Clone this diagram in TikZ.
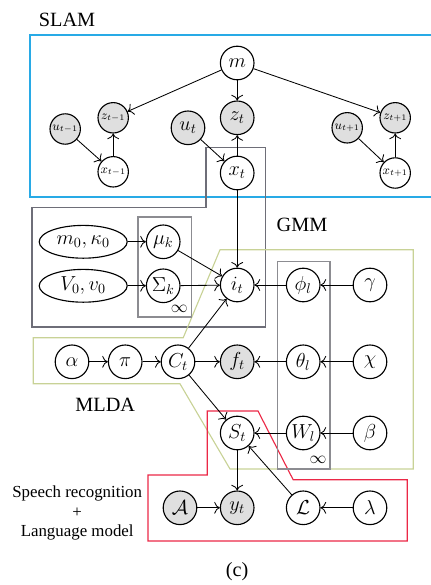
\documentclass[tikz,border=0pt]{standalone}
\usepackage[no-math]{fontspec}
\setmainfont{Liberation Serif}
\usepackage{amsmath}
\usetikzlibrary{arrows.meta,shapes.geometric,positioning,calc}
\definecolor{slamBlue}{RGB}{40,170,230}
\definecolor{gmmGray}{RGB}{110,110,120}
\definecolor{plateGray}{RGB}{140,140,145}
\definecolor{mldaGreen}{RGB}{200,210,150}
\definecolor{srRed}{RGB}{235,40,70}

\begin{document}
\begin{tikzpicture}[
  var/.style={circle,draw,thick,minimum size=0.84cm,inner sep=0pt,font=\Large},
  obs/.style={var,fill=gray!25},
  svar/.style={circle,draw,thick,minimum size=0.76cm,inner sep=0pt,font=\small},
  sobs/.style={svar,fill=gray!25},
  hyp/.style={ellipse,draw,thick,minimum width=2.2cm,minimum height=0.82cm,inner sep=0pt,font=\Large},
  plate/.style={draw=plateGray,thick},
  lbl/.style={font=\Large},
  ar/.style={-{To[length=4pt]},semithick}
]
  \useasboundingbox (0,0) rectangle (10.775,14.625);

  % model boxes
  \draw[slamBlue,very thick] (10.775,13.75) -- (0.75,13.75) -- (0.75,9.70) -- (10.775,9.70);
  \draw[draw=gmmGray,thick] (5.15,10.93) -- (6.63,10.93) -- (6.63,6.45) -- (0.80,6.45)
      -- (0.80,9.43) -- (5.15,9.43) -- cycle;
  \draw[mldaGreen,thick] (5.50,8.38) -- (10.33,8.38) -- (10.33,2.90) -- (5.75,2.90)
      -- (4.50,5.03) -- (0.83,5.03) -- (0.83,6.18) -- (4.58,6.18) -- cycle;
  \draw[srRed,thick] (5.18,4.35) -- (6.45,4.35) -- (7.33,2.63) -- (10.18,2.63)
      -- (10.18,1.10) -- (3.70,1.10) -- (3.70,2.75) -- (5.18,2.75) -- cycle;
  \draw[plate] (3.45,9.20) rectangle (4.78,6.70);
  \draw[plate] (6.93,8.08) rectangle (8.25,2.90);
  \node[font=\large](inf1) at (4.48,6.90) {$\infty$};
  \node[font=\large](inf2) at (7.95,3.13) {$\infty$};

  % labels
  \node[lbl,anchor=west](slam) at (0.85,14.13) {SLAM};
  \node[lbl](gmm)  at (7.55,9.00) {GMM};
  \node[lbl](mlda) at (2.63,4.50) {MLDA};
  \node[font=\large,align=center](sr) at (1.93,1.80)
      {Speech recognition\\+\\Language model};
  \node[lbl](cap) at (5.93,0.33) {(c)};

  % SLAM
  \node[var](m)    at (5.93,13.05) {$m$};
  \node[sobs](zp)  at (2.83,11.68) {$z_{t-1}$};
  \node[sobs](up)  at (1.63,11.40) {$u_{t-1}$};
  \node[svar](xp)  at (2.83,10.33) {$x_{t-1}$};
  \node[obs](ut)   at (4.70,11.43) {$u_t$};
  \node[obs](zt)   at (5.93,11.68) {$z_t$};
  \node[var](xt)   at (5.93,10.30) {$x_t$};
  \node[sobs](un)  at (8.68,11.43) {$u_{t+1}$};
  \node[sobs](zn)  at (9.88,11.68) {$z_{t+1}$};
  \node[svar](xn)  at (9.88,10.30) {$x_{t+1}$};

  % GMM
  \node[hyp](mk0)  at (2.08,8.58) {$m_0,\kappa_0$};
  \node[hyp](vv0)  at (2.08,7.48) {$V_0,v_0$};
  \node[var](mu)   at (4.08,8.58) {$\mu_k$};
  \node[var](sig)  at (4.08,7.48) {$\Sigma_k$};
  \node[var](it)   at (5.93,7.50) {$i_t$};
  \node[var](phi)  at (7.58,7.50) {$\phi_l$};
  \node[var](gam)  at (9.25,7.50) {$\gamma$};

  % MLDA
  \node[var](alp)  at (1.80,5.58) {$\alpha$};
  \node[var](pi)   at (3.13,5.58) {$\pi$};
  \node[var](ct)   at (4.45,5.58) {$C_t$};
  \node[obs](ft)   at (5.93,5.58) {$f_t$};
  \node[var](the)  at (7.58,5.58) {$\theta_l$};
  \node[var](chi)  at (9.25,5.58) {$\chi$};
  \node[var](st)   at (5.93,3.80) {$S_t$};
  \node[var](wl)   at (7.58,3.80) {$W_l$};
  \node[var](bet)  at (9.25,3.80) {$\beta$};

  % speech recognition
  \node[obs](am)   at (4.50,1.93) {$\mathcal{A}$};
  \node[obs](yt)   at (5.93,1.93) {$y_t$};
  \node[var](lm)   at (7.58,1.93) {$\mathcal{L}$};
  \node[var](lam)  at (9.25,1.93) {$\lambda$};

  \draw[ar](m)--(zp);
  \draw[ar](m)--(zt);
  \draw[ar](m)--(zn);
  \draw[ar](up)--(xp);
  \draw[ar](xp)--(zp);
  \draw[ar](ut)--(xt);
  \draw[ar](xt)--(zt);
  \draw[ar](un)--(xn);
  \draw[ar](xn)--(zn);
  \draw[ar](xt)--(it);
  \draw[ar](mk0)--(mu);
  \draw[ar](vv0)--(sig);
  \draw[ar](mu)--(it);
  \draw[ar](sig)--(it);
  \draw[ar](phi)--(it);
  \draw[ar](gam)--(phi);
  \draw[ar](alp)--(pi);
  \draw[ar](pi)--(ct);
  \draw[ar](ct)--(ft);
  \draw[ar](ct)--(it);
  \draw[ar](the)--(ft);
  \draw[ar](chi)--(the);
  \draw[ar](ct)--(st);
  \draw[ar](wl)--(st);
  \draw[ar](bet)--(wl);
  \draw[ar](st)--(yt);
  \draw[ar](am)--(yt);
  \draw[ar](lm)--(st);
  \draw[ar](lam)--(lm);
\end{tikzpicture}
\end{document}
